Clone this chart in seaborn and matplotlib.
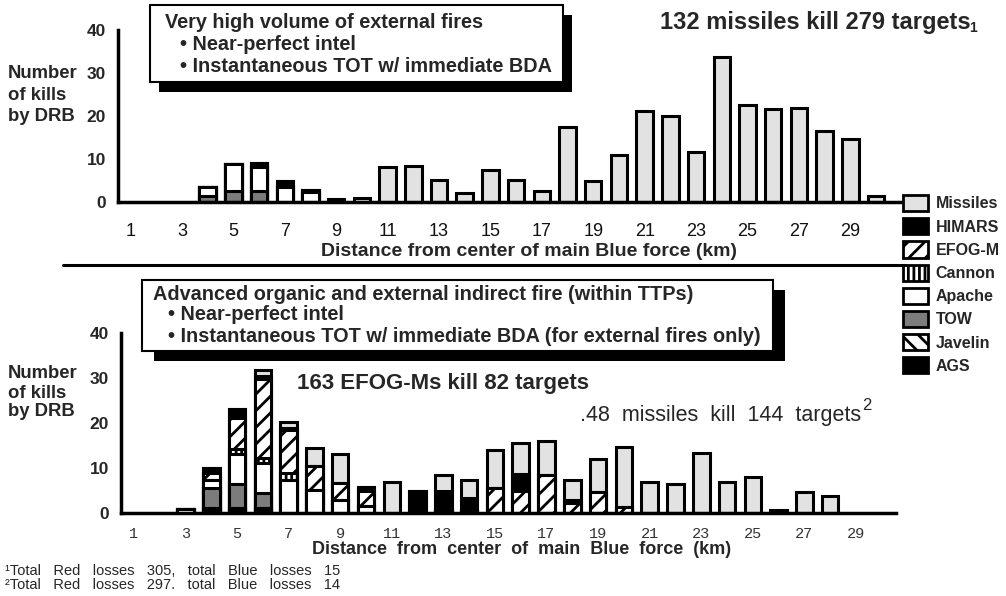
import numpy as np
import pandas as pd
import matplotlib
matplotlib.use("Agg")
import matplotlib.pyplot as plt
import seaborn as sns
from matplotlib.patches import Rectangle, Patch
from matplotlib.lines import Line2D
from matplotlib import font_manager as fm

# ---------------- data ----------------
kms = list(range(1, 31))
series_names = ["Missiles", "HIMARS", "EFOG-M", "Cannon", "Apache", "TOW", "Javelin", "AGS"]

# Upper panel: very high volume of external fires
top_missiles = [0, 0, 0, 0, 0, 0, 0, 0, 0.6, 0.9, 8.1, 8.4, 5.1, 2.1, 7.4, 5.1, 2.6, 17.5, 4.9, 10.9,
                21.2, 20.0, 11.6, 33.7, 22.5, 21.6, 21.8, 16.5, 14.6, 1.5]
top_himars = [0, 0, 0, 0, 0, 1.0, 1.5, 0.5, 0, 0, 0, 0, 0, 0, 0, 0, 0, 0, 0, 0,
              0, 0, 0, 0, 0, 0, 0, 0, 0, 0]
top_efogm = [0] * 30
top_cannon = [0] * 30
top_apache = [0, 0, 0, 2.0, 6.3, 5.6, 3.4, 2.3, 0, 0, 0, 0, 0, 0, 0, 0, 0, 0, 0, 0,
              0, 0, 0, 0, 0, 0, 0, 0, 0, 0]
top_tow = [0, 0, 0, 1.5, 2.5, 2.5, 0, 0, 0, 0, 0, 0, 0, 0, 0, 0, 0, 0, 0, 0,
           0, 0, 0, 0, 0, 0, 0, 0, 0, 0]
top_javelin = [0] * 30
top_ags = [0] * 30

# Lower panel: advanced organic and external indirect fire
bot_missiles = [0, 0, 0, 0, 0, 1.3, 1.2, 4.0, 6.6, 0, 7.0, 0, 3.4, 4.0, 8.5, 6.9, 7.5, 4.5, 7.5, 13.3,
                6.8, 6.4, 13.4, 6.8, 7.9, 0.7, 4.6, 3.8, 0, 0]
bot_himars = [0, 0, 0, 1.1, 2.0, 0.7, 0.6, 0, 0, 0.7, 0, 4.8, 4.5, 3.0, 0, 3.7, 0, 0.5, 0, 0,
              0, 0, 0, 0, 0, 0, 0, 0, 0, 0]
bot_efogm = [0, 0, 0, 1.5, 6.8, 17.4, 9.6, 5.3, 3.8, 3.4, 0, 0, 0, 0, 5.5, 5.0, 8.5, 2.3, 4.6, 1.4,
             0, 0, 0, 0, 0, 0, 0, 0, 0, 0]
bot_cannon = [0, 0, 0, 0, 1.1, 1.1, 1.5, 0, 0, 0, 0, 0, 0, 0, 0, 0, 0, 0, 0, 0,
              0, 0, 0, 0, 0, 0, 0, 0, 0, 0]
bot_apache = [0, 0, 1.0, 1.8, 6.8, 6.8, 7.3, 5.2, 2.8, 1.6, 0, 0, 0.5, 0.4, 0, 0, 0, 0, 0, 0,
              0, 0, 0, 0, 0, 0, 0, 0, 0, 0]
bot_tow = [0, 0, 0, 4.3, 5.2, 3.3, 0, 0, 0, 0, 0, 0, 0, 0, 0, 0, 0, 0, 0, 0,
           0, 0, 0, 0, 0, 0, 0, 0, 0, 0]
bot_javelin = [0] * 30
bot_ags = [0, 0, 0, 1.2, 1.2, 1.1, 0, 0, 0, 0, 0, 0, 0, 0, 0, 0, 0, 0, 0, 0,
           0, 0, 0, 0, 0, 0, 0, 0, 0, 0]

top_ticklabels = [str(k) for k in range(1, 30, 2)]
bot_ticklabels = [str(k) for k in range(1, 30, 2)]
ytick_values = [0, 10, 20, 30, 40]

top_components = dict(zip(series_names, [top_missiles, top_himars, top_efogm, top_cannon,
                                         top_apache, top_tow, top_javelin, top_ags]))
bot_components = dict(zip(series_names, [bot_missiles, bot_himars, bot_efogm, bot_cannon,
                                         bot_apache, bot_tow, bot_javelin, bot_ags]))

# ---------------- style ----------------
W, H = 1006, 596


def fx(x):
    return x / W


def fy(y):
    return 1 - y / H


def has_font(name):
    try:
        fm.findfont(fm.FontProperties(family=name), fallback_to_default=False)
        return True
    except Exception:
        return False


sns.set_theme(style="white")
plt.rcParams['font.family'] = ['Liberation Sans', 'DejaVu Sans']
plt.rcParams['hatch.linewidth'] = 2.0
NARROW = 'Liberation Sans Narrow' if has_font('Liberation Sans Narrow') else 'Liberation Sans'
MONO = 'Liberation Mono' if has_font('Liberation Mono') else 'DejaVu Sans Mono'

styles = {
    "Missiles": dict(color="#e2e2e2", hatch=None),
    "HIMARS": dict(color="black", hatch=None),
    "EFOG-M": dict(color="white", hatch="//"),
    "Cannon": dict(color="white", hatch="|||"),
    "Apache": dict(color="white", hatch=None),
    "TOW": dict(color="#7c7c7c", hatch=None),
    "Javelin": dict(color="white", hatch="\\\\"),
    "AGS": dict(color="black", hatch=None),
}
stack_order = ["AGS", "Javelin", "TOW", "Apache", "Cannon", "EFOG-M", "HIMARS", "Missiles"]

fig = plt.figure(figsize=(W / 100, H / 100), dpi=100)
ax1 = fig.add_axes([fx(117.7), fy(202), (912 - 117.7) / W, (202 - 30) / H])
ax2 = fig.add_axes([fx(121), fy(513), (896 - 121) / W, (513 - 333) / H])


def draw_stack(ax, comps):
    cum = np.zeros(len(kms))
    cums = {}
    for n in stack_order:
        cum = cum + np.array(comps[n], dtype=float)
        cums[n] = cum.copy()
    for n in reversed(stack_order):
        df = pd.DataFrame({"km": kms, "kills": cums[n]})
        df = df[df["kills"] > 0]
        if df.empty:
            continue
        st = styles[n]
        sns.barplot(data=df, x="km", y="kills", order=kms, color=st["color"], saturation=1,
                    width=0.64, edgecolor="black", linewidth=2.2, hatch=st["hatch"],
                    errorbar=None, ax=ax, zorder=3)


draw_stack(ax1, top_components)
draw_stack(ax2, bot_components)

for ax in (ax1, ax2):
    for s in ("top", "right"):
        ax.spines[s].set_visible(False)
    for s in ("left", "bottom"):
        ax.spines[s].set_linewidth(2.5)
        ax.spines[s].set_color("black")
        ax.spines[s].set_zorder(4)
    ax.set_ylim(0, 40)
    ax.set_yticks(ytick_values)
    ax.set_xlabel("")
    ax.set_ylabel("")
    ax.patch.set_alpha(0)
    ax.set_xticks(np.arange(-0.5, 30.0, 1), minor=True)
    ax.set_xticks(list(range(0, 30, 2)))
    ax.tick_params(axis="y", direction="inout", length=11, width=2.5, color="black", pad=3)
    ax.tick_params(axis="x", which="major", length=0)
    ax.grid(False)

ax1.tick_params(axis="x", which="minor", direction="out", length=8, width=2.5, color="black")
ax2.tick_params(axis="x", which="minor", direction="inout", length=13, width=2.5, color="black")

ax1.set_xlim(-0.5, 30.4)
ax2.set_xlim(-0.5, 29.55)

ax1.set_xticklabels(top_ticklabels, fontsize=13, color="#111111")
ax1.tick_params(axis="x", which="major", pad=15)
ax1.set_yticklabels([str(v) for v in ytick_values], fontsize=12.5, fontweight="bold")

ax2.set_xticklabels(bot_ticklabels, fontsize=11, family=MONO, color="#333333")
ax2.tick_params(axis="x", which="major", pad=10)
ax2.set_yticklabels([str(v) for v in ytick_values], fontsize=12.5, fontweight="bold")

# ---------------- decorations ----------------
fig.add_artist(Line2D([fx(63), fx(905)], [fy(265), fy(265)], transform=fig.transFigure,
                      color="black", lw=2.2))


def shadow_box(l, t, r, b, dx, dy):
    fig.add_artist(Rectangle((fx(l + dx), fy(b + dy)), (r - l) / W, (b - t) / H,
                             transform=fig.transFigure, facecolor="black", edgecolor="none", zorder=5))
    fig.add_artist(Rectangle((fx(l), fy(b)), (r - l) / W, (b - t) / H,
                             transform=fig.transFigure, facecolor="white", edgecolor="black",
                             lw=1.5, zorder=6))


shadow_box(150, 5, 563, 82, 9, 10)
shadow_box(142, 280, 773, 351, 12, 10)

tkw = dict(fontweight="bold", va="center", ha="left", zorder=7)
fig.text(fx(165), fy(23), "Very high volume of external fires", fontsize=14.3, **tkw)
fig.text(fx(180), fy(45), "\u2022 Near-perfect intel", fontsize=14.3, **tkw)
fig.text(fx(180), fy(67), "\u2022 Instantaneous TOT w/ immediate BDA", fontsize=14.3, **tkw)

fig.text(fx(153), fy(294), "Advanced organic and external indirect fire (within TTPs)", fontsize=14.3, **tkw)
fig.text(fx(168), fy(315), "\u2022 Near-perfect intel", fontsize=14.3, **tkw)
fig.text(fx(168), fy(336), "\u2022 Instantaneous TOT w/ immediate BDA (for external fires only)",
         fontsize=14.3, **tkw)

fig.text(fx(660), fy(23), "132 missiles kill 279 targets", fontsize=17, **tkw)
fig.text(fx(969), fy(28), "1", fontsize=10, **tkw)

fig.text(fx(297), fy(383), "163 EFOG-Ms kill 82 targets", fontsize=16, **tkw)
fig.text(fx(580), fy(416), ".48  missiles  kill  144  targets", fontsize=15.5, family=NARROW,
         va="center", ha="left", zorder=7)
fig.text(fx(862), fy(405), "2", fontsize=12, family=NARROW, va="center", ha="left", zorder=7)

for lines_y, in [((73, 95, 116),), ((373, 393, 412),)]:
    for txt, yy in zip(["Number", "of kills", "by DRB"], lines_y):
        fig.text(fx(8), fy(yy), txt, fontsize=13.3, **tkw)

fig.text(fx(529), fy(252), "Distance from center of main Blue force (km)", fontsize=14,
         fontweight="bold", ha="center", va="center")
fig.text(fx(522), fy(550), "Distance  from  center  of  main  Blue  force  (km)", fontsize=13,
         family=NARROW, fontweight="bold", ha="center", va="center")

fig.text(fx(5), fy(571), "\u00b9Total   Red   losses   305,   total   Blue   losses   15", fontsize=10.5,
         family=NARROW, va="center", ha="left")
fig.text(fx(5), fy(585), "\u00b2Total   Red   losses   297.   total   Blue   losses   14", fontsize=10.5,
         family=NARROW, va="center", ha="left")

handles = [Patch(facecolor=styles[n]["color"], edgecolor="black", hatch=styles[n]["hatch"], lw=2)
           for n in series_names]
fig.legend(handles, series_names, loc="upper left", bbox_to_anchor=(fx(903), fy(195)),
           frameon=False, borderpad=0, borderaxespad=0, handlelength=1.55, handleheight=1.18,
           labelspacing=0.42, handletextpad=0.5, prop=dict(weight="bold", size=11.5))

fig.savefig("out.png", dpi=100)
